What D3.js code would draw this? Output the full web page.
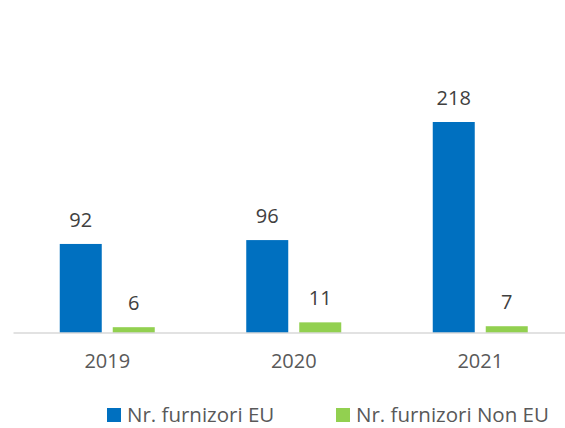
<!DOCTYPE html>
<html>
<head>
<meta charset="utf-8">
<script src="https://cdn.jsdelivr.net/npm/d3@7"></script>
<style>
  body { margin: 0; background: #fff; }
  svg { display: block; font-family: "Open Sans", sans-serif; }
</style>
</head>
<body>
<svg id="chart"></svg>
<script>
// data
var years = ["2019", "2020", "2021"]
var seriesNames = ["Nr. furnizori EU", "Nr. furnizori Non EU"]
var euValues = [92, 96, 218]
var nonEuValues = [6, 11, 7]
var colors = ["#0070C0", "#92D050"]

var width = 565, height = 428
var baseline = 333

var svg = d3.select("#chart")
    .attr("width", width)
    .attr("height", height)

var rows = years.map(function(y, i) {
    return { year: y, values: [euValues[i], nonEuValues[i]] }
})

var x = d3.scaleBand()
    .domain(years)
    .range([14, 573.5])

var inner = d3.scaleBand()
    .domain([0, 1])
    .range([45.75, x.bandwidth() - 45.75])
    .paddingInner(11 / 53)

var y = d3.scaleLinear()
    .domain([0, 218])
    .range([baseline, 122])

var groups = svg.selectAll("g.year")
    .data(rows)
    .join("g")
    .attr("class", "year")
    .attr("transform", function(d) { return "translate(" + x(d.year) + ",0)" })

groups.selectAll("rect")
    .data(function(d) { return d.values })
    .join("rect")
    .attr("x", function(d, i) { return inner(i) })
    .attr("width", inner.bandwidth())
    .attr("y", function(d) { return y(d) })
    .attr("height", function(d) { return baseline - y(d) })
    .attr("fill", function(d, i) { return colors[i] })

groups.selectAll("text.val")
    .data(function(d) { return d.values })
    .join("text")
    .attr("class", "val")
    .attr("x", function(d, i) { return inner(i) + inner.bandwidth() / 2 })
    .attr("y", function(d) { return y(d) - 17 })
    .attr("text-anchor", "middle")
    .attr("font-size", 20)
    .attr("fill", "#404040")
    .text(function(d) { return d })

// axis
var axis = svg.append("g")
    .attr("transform", "translate(0," + baseline + ")")
    .call(d3.axisBottom(x).tickSize(0).tickPadding(21))
axis.select(".domain")
    .attr("d", "M13.5,0H" + width)
    .attr("stroke", "#D9D9D9")
    .attr("stroke-width", 1.5)
axis.selectAll("text")
    .attr("font-size", 20)
    .attr("font-family", "Open Sans, sans-serif")
    .attr("fill", "#595959")

// legend - kept a few px up so the text box stays inside the frame
var legendX = [107, 336]
var legend = svg.selectAll("g.legend")
    .data(seriesNames)
    .join("g")
    .attr("class", "legend")
    .attr("transform", function(d, i) { return "translate(" + legendX[i] + ",408)" })
legend.append("rect")
    .attr("width", 14)
    .attr("height", 14)
    .attr("fill", function(d, i) { return colors[i] })
legend.append("text")
    .attr("x", 20)
    .attr("y", 14)
    .attr("font-size", 20.5)
    .attr("fill", "#595959")
    .text(function(d) { return d })
</script>
</body>
</html>
